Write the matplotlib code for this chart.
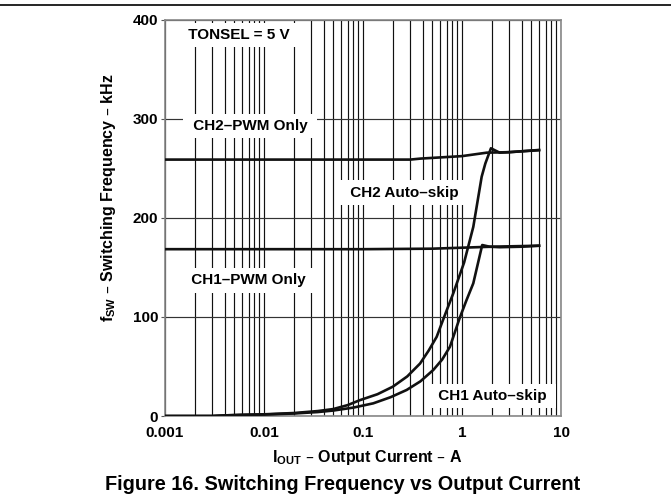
import numpy as np
import matplotlib
matplotlib.use('Agg')
import matplotlib.pyplot as plt
from matplotlib.lines import Line2D
from matplotlib.ticker import FixedLocator, LogLocator, NullFormatter

plt.rcParams['font.family'] = ['Liberation Sans', 'DejaVu Sans']
plt.rcParams['font.weight'] = 'bold'

# data (A, kHz)
ch2_pwm_x = [0.001, 0.01, 0.1, 0.3, 0.38, 1.0, 1.78, 3.0, 6.0]
ch2_pwm_y = [259, 259, 259, 259, 260, 262.5, 266, 266.5, 268.5]

ch1_pwm_x = [0.001, 0.01, 0.1, 0.5, 1.0, 2.0, 6.0]
ch1_pwm_y = [168.5, 168.5, 168.5, 169, 170, 171, 172]

ch2_skip_x = [0.001, 0.003, 0.004, 0.006, 0.01, 0.02, 0.035, 0.05, 0.07, 0.093,
              0.14, 0.2, 0.28, 0.377, 0.46, 0.555, 0.66, 0.817, 1.05, 1.3,
              1.58, 1.72, 1.96, 2.4, 3.0, 6.0]
ch2_skip_y = [0, 0, 0.6, 1.2, 1.7, 3, 5, 7, 11, 16,
              22, 29.6, 40, 53, 66, 80, 100, 124, 155, 191,
              241.7, 255, 270.4, 266, 266.5, 268.7]

ch1_skip_x = [0.001, 0.003, 0.004, 0.006, 0.01, 0.02, 0.035, 0.05, 0.08, 0.127,
              0.19, 0.276, 0.38, 0.513, 0.63, 0.756, 0.94, 1.1, 1.3,
              1.6, 1.9, 2.4, 4.0, 6.0]
ch1_skip_y = [0, 0, 0.6, 1.1, 1.5, 2.5, 4, 5.5, 8.5, 12.8,
              19, 26.3, 35, 46.5, 57, 70, 98, 116, 134,
              172.7, 171, 170.5, 171, 172]

xticks = [0.001, 0.01, 0.1, 1, 10]
xtick_labels = ['0.001', '0.01', '0.1', '1', '10']
yticks = [0, 100, 200, 300, 400]

fig = plt.figure(figsize=(6.71, 5.0), dpi=100)
ax = fig.add_axes([165 / 671, 84 / 500, 396 / 671, 396 / 500])

ax.set_xscale('log')
ax.set_xlim(0.001, 10)
ax.set_ylim(0, 400)

# log grid on every minor decade step, plus the kHz lines
ax.xaxis.set_major_locator(FixedLocator(xticks))
ax.xaxis.set_minor_locator(LogLocator(base=10, subs=np.arange(2, 10)))
ax.xaxis.set_minor_formatter(NullFormatter())
ax.set_xticklabels(xtick_labels)
ax.set_yticks(yticks)
ax.grid(True, which='both', axis='x', color='#111111', lw=0.85, zorder=1)
ax.grid(True, which='major', axis='y', color='#333333', lw=0.85, zorder=1)

ax.tick_params(axis='x', which='both', length=0, pad=7, labelsize=11)
ax.tick_params(axis='y', length=3, pad=2, labelsize=11, color='#555555')
for lab in ax.get_xticklabels() + ax.get_yticklabels():
    lab.set_fontweight('bold')
for s in ax.spines.values():
    s.set_color('#888888')
    s.set_linewidth(1.2)

lw = 1.9
ax.plot(ch2_pwm_x, ch2_pwm_y, color='#111111', lw=lw, zorder=4)
ax.plot(ch1_pwm_x, ch1_pwm_y, color='#111111', lw=lw, zorder=4)
ax.plot(ch2_skip_x, ch2_skip_y, color='#111111', lw=lw, zorder=4)
ax.plot(ch1_skip_x, ch1_skip_y, color='#111111', lw=lw, zorder=4)

box = dict(boxstyle='square,pad=0.35', fc='white', ec='none')
labels = [('TONSEL = 5 V', 0.186, 0.962),
          ('CH2\u2013PWM Only', 0.215, 0.732),
          ('CH2 Auto\u2013skip', 0.604, 0.564),
          ('CH1\u2013PWM Only', 0.210, 0.343),
          ('CH1 Auto\u2013skip', 0.827, 0.0505)]
for txt, xf, yf in labels:
    ax.text(xf, yf, ' ' + txt + ' ', transform=ax.transAxes, ha='center',
            va='center', fontsize=11, fontweight='bold', bbox=box, zorder=3)

ax.set_xlabel('I$_{\\mathregular{OUT}}$ \u2013 Output Current \u2013 A',
              fontsize=11.5, fontweight='bold', labelpad=4)
ax.xaxis.set_label_coords(0.51, -0.08)
ax.set_ylabel('f$_{\\mathregular{SW}}$ \u2013 Switching Frequency \u2013 kHz',
              fontsize=11.5, fontweight='bold')
ax.yaxis.set_label_coords(-0.119, 0.552)

fig.text(343 / 671, 1 - 484 / 500,
         'Figure 16. Switching Frequency vs Output Current',
         ha='center', va='center', fontsize=14.3, fontweight='bold')

# rule across the top of the page
fig.add_artist(Line2D([0, 1], [1 - 5 / 500, 1 - 5 / 500],
                      transform=fig.transFigure, color='black', lw=1.2))

fig.savefig('out.png', dpi=100)
